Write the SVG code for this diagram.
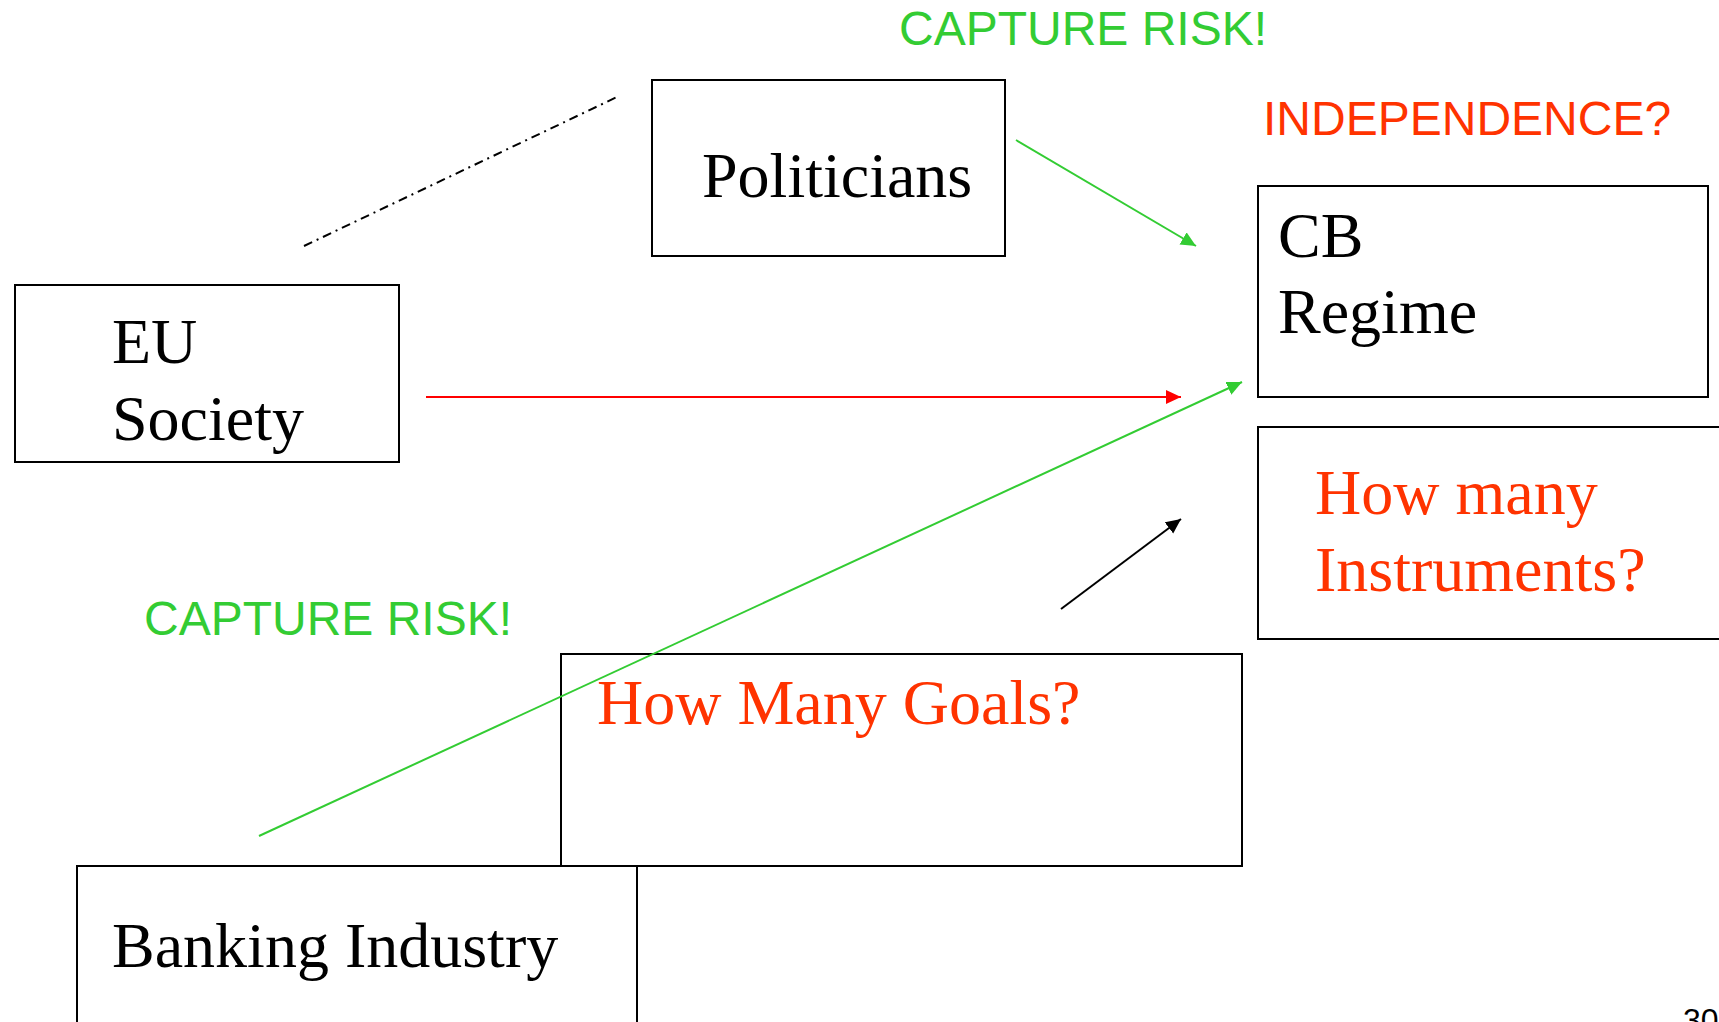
<svg xmlns="http://www.w3.org/2000/svg" width="1719" height="1022" viewBox="0 0 1719 1022">
<style>
.box{fill:none;stroke:#000;stroke-width:2}
.serif{font-family:"Liberation Serif","Times New Roman",serif;font-size:64px}
.sans{font-family:"Liberation Sans",Arial,sans-serif;font-size:48px}
.blk{fill:#000}
.red{fill:#FF3300}
.grn{fill:#33CC33}
.con{fill:none;stroke-width:2}
</style>
<defs>
<marker id="ag" markerUnits="userSpaceOnUse" markerWidth="16" markerHeight="15" refX="15" refY="7" orient="auto"><path d="M0,0 L15,7 L0,14 z" fill="#33CC33"/></marker>
<marker id="ar" markerUnits="userSpaceOnUse" markerWidth="16" markerHeight="15" refX="15" refY="7" orient="auto"><path d="M0,0 L15,7 L0,14 z" fill="#FF0000"/></marker>
<marker id="ab" markerUnits="userSpaceOnUse" markerWidth="16" markerHeight="15" refX="15" refY="7" orient="auto"><path d="M0,0 L15,7 L0,14 z" fill="#000"/></marker>
</defs>
<rect width="1719" height="1022" fill="#fff"/>
<g id="eu-society">
<rect class="box" x="15" y="285" width="384" height="177"/>
<text class="serif blk" x="112" y="363">EU</text>
<text class="serif blk" x="112" y="440">Society</text>
</g>
<g id="politicians">
<rect class="box" x="652" y="80" width="353" height="176"/>
<text class="serif blk" x="702" y="197">Politicians</text>
</g>
<g id="cb-regime">
<rect class="box" x="1258" y="186" width="450" height="211"/>
<text class="serif blk" x="1278" y="257">CB</text>
<text class="serif blk" x="1278" y="333">Regime</text>
</g>
<g id="instruments">
<rect class="box" x="1258" y="427" width="480" height="212"/>
<text class="serif red" x="1315" y="514">How many</text>
<text class="serif red" x="1315" y="591">Instruments?</text>
</g>
<g id="goals">
<rect class="box" x="561" y="654" width="681" height="212"/>
<text class="serif red" x="597" y="724">How Many Goals?</text>
</g>
<g id="banking">
<rect class="box" x="77" y="866" width="560" height="200"/>
<text class="serif blk" x="112" y="967">Banking Industry</text>
</g>
<g id="labels">
<text class="sans grn" x="899" y="45">CAPTURE RISK!</text>
<text class="sans red" x="1263" y="135">INDEPENDENCE?</text>
<text class="sans grn" x="144" y="635">CAPTURE RISK!</text>
<text class="blk" x="1683" y="1031" font-family="Liberation Sans,Arial,sans-serif" font-size="32">30</text>
</g>
<g id="connectors">
<line class="con" x1="304" y1="246" x2="617" y2="97" stroke="#000" stroke-dasharray="9 5 2 5"/>
<line class="con" x1="1016" y1="140" x2="1196" y2="246" stroke="#33CC33" marker-end="url(#ag)"/>
<line class="con" x1="426" y1="397" x2="1181" y2="397" stroke="#FF0000" marker-end="url(#ar)"/>
<line class="con" x1="259" y1="836" x2="1242" y2="382" stroke="#33CC33" marker-end="url(#ag)"/>
<line class="con" x1="1061" y1="609" x2="1181" y2="519" stroke="#000" marker-end="url(#ab)"/>
</g>
</svg>
